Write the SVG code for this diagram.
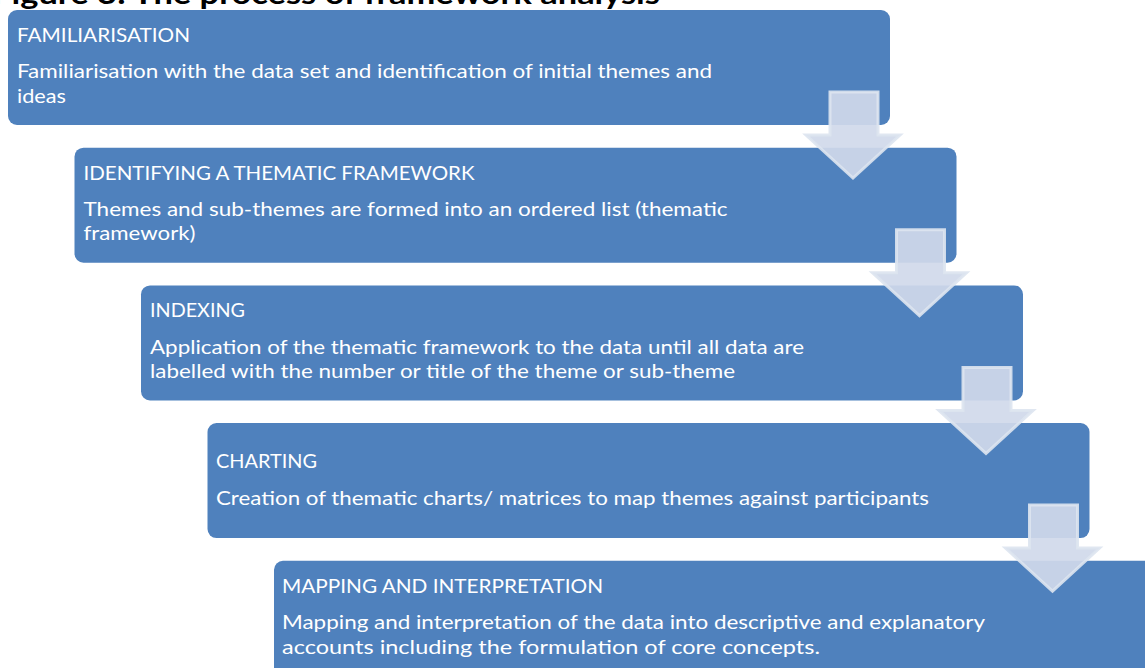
<svg xmlns="http://www.w3.org/2000/svg" width="1145" height="668" viewBox="0 0 1145 668">
<style>
.box{fill:#4f81bd;}
.t{font-family:Lato,"Open Sans","Liberation Sans",sans-serif;font-size:20px;fill:#ffffff;}
.title{font-family:Lato,"Liberation Sans",sans-serif;font-size:28px;font-weight:bold;fill:#000000;}
.arrow{fill:#d0d9ea;fill-opacity:0.92;stroke:#dde4f0;stroke-width:3;stroke-opacity:0.9;stroke-linejoin:miter;}
</style>
<rect width="1145" height="668" fill="#ffffff"/>
<text class="title" x="-8" y="4" textLength="668" lengthAdjust="spacingAndGlyphs">Figure 3: The process of framework analysis</text>
<g id="node1">
<rect class="box" x="8" y="10" width="882" height="115" rx="9"/>
<text class="t" x="17" y="42" textLength="173" lengthAdjust="spacingAndGlyphs">FAMILIARISATION</text>
<text class="t" x="17" y="78.3" textLength="695" lengthAdjust="spacingAndGlyphs">Familiarisation with the data set and identification of initial themes and</text>
<text class="t" x="17" y="102.7" textLength="49" lengthAdjust="spacingAndGlyphs">ideas</text>
</g>
<g id="node2">
<rect class="box" x="74.5" y="147.7" width="882" height="115" rx="9"/>
<text class="t" x="83.5" y="179.7" textLength="391" lengthAdjust="spacingAndGlyphs">IDENTIFYING A THEMATIC FRAMEWORK</text>
<text class="t" x="83.5" y="216" textLength="644" lengthAdjust="spacingAndGlyphs">Themes and sub-themes are formed into an ordered list (thematic</text>
<text class="t" x="83.5" y="240.4" textLength="112" lengthAdjust="spacingAndGlyphs">framework)</text>
</g>
<g id="node3">
<rect class="box" x="141" y="285.4" width="882" height="115" rx="9"/>
<text class="t" x="150" y="317.4" textLength="95" lengthAdjust="spacingAndGlyphs">INDEXING</text>
<text class="t" x="150" y="353.7" textLength="654" lengthAdjust="spacingAndGlyphs">Application of the thematic framework to the data until all data are</text>
<text class="t" x="150" y="378.1" textLength="585" lengthAdjust="spacingAndGlyphs">labelled with the number or title of the theme or sub-theme</text>
</g>
<g id="node4">
<rect class="box" x="207.5" y="423.1" width="882" height="115" rx="9"/>
<text class="t" x="216" y="468.1" textLength="101" lengthAdjust="spacingAndGlyphs">CHARTING</text>
<text class="t" x="216" y="505.1" textLength="713" lengthAdjust="spacingAndGlyphs">Creation of thematic charts/ matrices to map themes against participants</text>
</g>
<g id="node5">
<rect class="box" x="274" y="560.8" width="882" height="115" rx="9"/>
<text class="t" x="282" y="592.8" textLength="321" lengthAdjust="spacingAndGlyphs">MAPPING AND INTERPRETATION</text>
<text class="t" x="282" y="629.1" textLength="703" lengthAdjust="spacingAndGlyphs">Mapping and interpretation of the data into descriptive and explanatory</text>
<text class="t" x="282" y="653.5" textLength="538" lengthAdjust="spacingAndGlyphs">accounts including the formulation of core concepts.</text>
</g>
<g id="connectors">
<path class="arrow" d="M830,92 H878 V135 H900 L853,178 L806,135 H830 Z"/>
<path class="arrow" d="M896.5,229.7 H944.5 V272.7 H966.5 L919.5,315.7 L872.5,272.7 H896.5 Z"/>
<path class="arrow" d="M963,367.4 H1011 V410.4 H1033 L986,453.4 L939,410.4 H963 Z"/>
<path class="arrow" d="M1029.5,505.1 H1077.5 V548.1 H1099.5 L1052.5,591.1 L1005.5,548.1 H1029.5 Z"/>
</g>
</svg>
